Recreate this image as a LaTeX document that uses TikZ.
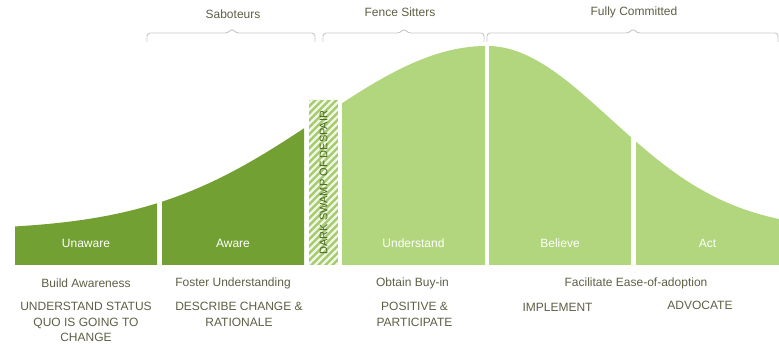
\documentclass[tikz,border=0pt]{standalone}
\usepackage{fontspec}
\setmainfont{Liberation Sans}
\definecolor{darkstage}{RGB}{115,160,51}
\definecolor{lightstage}{RGB}{178,214,125}
\definecolor{labelgray}{RGB}{94,94,70}
\definecolor{bracegray}{RGB}{200,200,200}
\tikzset{
  stagelabel/.style={text=white,font=\fontsize{12}{14}\selectfont},
  tasklabel/.style={text=labelgray,font=\fontsize{12}{15.5}\selectfont,align=center},
  grouplabel/.style={text=labelgray,font=\fontsize{12}{14}\selectfont},
  bracket/.style={draw=bracegray,line width=0.9pt,rounded corners=3pt}
}
\begin{document}
\begin{tikzpicture}[x=1pt,y=-1pt,
    declare function={bl(\t)=230-184*exp(-0.5*((\t-487)/168)^2);
                      br(\t)=230-184*exp(-0.5*((\t-487)/123)^2);}]
      \useasboundingbox (0,0) rectangle (779,344);
      % curve
      \fill[darkstage] (15,265) -- plot[domain=15:157,samples=30] (\x,{bl(\x)}) -- (157,265) -- cycle;
      \fill[darkstage] (162,265) -- plot[domain=162:304,samples=30] (\x,{bl(\x)}) -- (304,265) -- cycle;
      \fill[lightstage] (342,265) -- plot[domain=342:485,samples=30] (\x,{bl(\x)}) -- (485,265) -- cycle;
      \fill[lightstage] (489,265) -- plot[domain=489:631,samples=30] (\x,{br(\x)}) -- (631,265) -- cycle;
      \fill[lightstage] (636,265) -- plot[domain=636:779,samples=30] (\x,{br(\x)}) -- (779,265) -- cycle;
      % swamp
      \fill[lightstage!80!darkstage] (309,100) rectangle (338,265);
      \begin{scope}
        \clip (309,100) rectangle (338,265);
        \foreach \k in {100,107,...,310}
          \draw[white!80!lightstage,line width=2.4pt] (305,\k) -- ++(40,-40);
      \end{scope}
      \node (swamp) [rotate=90,text=darkstage!65!black,font=\fontsize{11}{13}\selectfont] at (323.5,182.5) {DARK SWAMP OF DESPAIR};
      % stages
      \node (unaware) [stagelabel] at (86,243.5) {Unaware};
      \node (aware) [stagelabel] at (233,243.5) {Aware};
      \node (understand) [stagelabel] at (413.5,243.5) {Understand};
      \node (believe) [stagelabel] at (560,243.5) {Believe};
      \node (act) [stagelabel] at (707.5,243.5) {Act};
      % tasks
      \node (build) [tasklabel] at (86,283) {Build Awareness};
      \node (foster) [tasklabel] at (233,283) {Foster Understanding};
      \node (obtain) [tasklabel] at (412.5,283) {Obtain Buy-in};
      \node (facilitate) [tasklabel] at (636,283) {Facilitate Ease-of-adoption};
      \node (status) [tasklabel] at (86,322) {UNDERSTAND STATUS\\QUO IS GOING TO\\CHANGE};
      \node (describe) [tasklabel] at (239,314.5) {DESCRIBE CHANGE \&\\RATIONALE};
      \node (positive) [tasklabel] at (414.5,314.5) {POSITIVE \&\\PARTICIPATE};
      \node (implement) [tasklabel] at (557.5,307) {IMPLEMENT};
      \node (advocate) [tasklabel] at (700,305.5) {ADVOCATE};
      % groups
      \node (saboteurs) [grouplabel] at (233,14) {Saboteurs};
      \node (fence) [grouplabel] at (400,12) {Fence Sitters};
      \node (committed) [grouplabel] at (634,12) {Fully Committed};
      \foreach \l/\m/\r in {147/232/315, 323/404/484, 487/633/778}
        \draw[bracket] (\l,42) -- (\l,33) -- (\m-4,33) -- (\m,28.5) -- (\m+4,33) -- (\r,33) -- (\r,42);
\end{tikzpicture}
\end{document}
